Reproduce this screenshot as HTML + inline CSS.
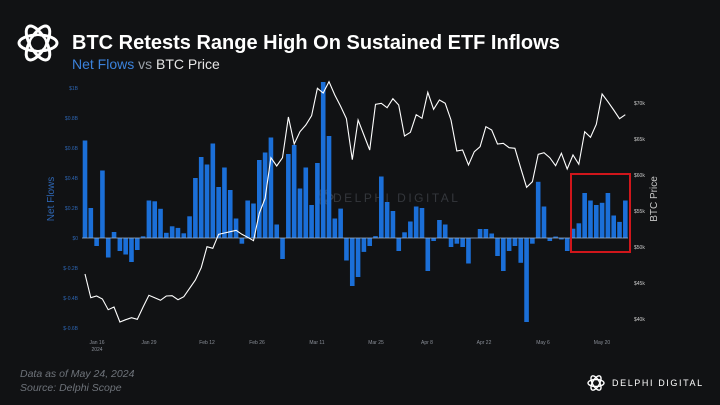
<!DOCTYPE html>
<html><head><meta charset="utf-8"><style>
html,body{margin:0;padding:0;background:#111214;width:720px;height:405px;overflow:hidden}
svg{display:block}
text{font-family:"Liberation Sans",sans-serif}
</style></head><body>
<svg id="s" width="720" height="405" viewBox="0 0 720 405" xmlns="http://www.w3.org/2000/svg">
<rect width="720" height="405" fill="#111214"/>
<g fill="none" stroke="#fff" stroke-width="3">
<ellipse cx="38" cy="43" rx="19" ry="8" transform="rotate(0 38 43)"/>
<ellipse cx="38" cy="43" rx="19" ry="8" transform="rotate(60 38 43)"/>
<ellipse cx="38" cy="43" rx="19" ry="8" transform="rotate(120 38 43)"/>
</g>
<circle cx="38" cy="43" r="7" fill="#111214"/>
<text x="72" y="49" font-size="20" font-weight="bold" fill="#fff">BTC Retests Range High On Sustained ETF Inflows</text>
<text x="72" y="69" font-size="14" fill="#3b82dc">Net Flows <tspan fill="#9aa0a8">vs</tspan> <tspan fill="#e6e6e6">BTC Price</tspan></text>
<text x="333" y="202" font-size="12" fill="#34373c" letter-spacing="2.5">DELPHI DIGITAL</text>
<g fill="none" stroke="#34373c" stroke-width="1.5">
<ellipse cx="325" cy="197" rx="8" ry="3.5"/>
<ellipse cx="325" cy="197" rx="8" ry="3.5" transform="rotate(60 325 197)"/>
<ellipse cx="325" cy="197" rx="8" ry="3.5" transform="rotate(120 325 197)"/>
</g>
<text transform="translate(54 199) rotate(-90)" font-size="10" fill="#2d64b0" text-anchor="middle">Net Flows</text>
<text transform="translate(657 199) rotate(-90)" font-size="10" fill="#c8c8c8" text-anchor="middle">BTC Price</text>
<g id="g"></g>
<rect x="571" y="174" width="59" height="78" fill="none" stroke="#d0161b" stroke-width="2"/>
<text x="20" y="377" font-size="10.5" font-style="italic" fill="#6e737a">Data as of May 24, 2024</text>
<text x="20" y="391" font-size="10.5" font-style="italic" fill="#6e737a">Source: Delphi Scope</text>
<g fill="none" stroke="#fff" stroke-width="1.4">
<ellipse cx="596" cy="383" rx="8" ry="3.5"/>
<ellipse cx="596" cy="383" rx="8" ry="3.5" transform="rotate(60 596 383)"/>
<ellipse cx="596" cy="383" rx="8" ry="3.5" transform="rotate(120 596 383)"/>
</g>
<text x="612" y="386" font-size="9" fill="#fff" letter-spacing="1.6">DELPHI DIGITAL</text>
</svg>
<script>
var b=[0.65,0.2,-0.053,0.45,-0.13,0.04,-0.087,-0.11,-0.16,-0.08,0.011,0.25,0.245,0.195,0.035,0.078,0.067,0.031,0.145,0.40,0.54,0.49,0.63,0.34,0.47,0.32,0.13,-0.038,0.25,0.23,0.52,0.57,0.67,0.09,-0.14,0.56,0.62,0.33,0.47,0.22,0.50,1.04,0.68,0.13,0.196,-0.15,-0.32,
-0.26,-0.093,-0.053,0.013,0.41,0.24,0.18,-0.087,0.038,0.11,0.21,0.2,-0.22,-0.02,0.12,0.09,-0.06,-0.038,-0.06,-0.17,0,0.06,0.06,0.03,-0.12,-0.22,-0.087,-0.053,-0.165,-0.56,-0.038,0.375,0.21,-0.02,0.01,-0.01,-0.087,0.062,0.098,0.30,0.25,0.22,0.235,0.30,0.15,0.107,0.25];
var p=[597,668,663,672,704,696,741,734,728,733,696,661,668,676,663,662,674,665,640,615,578,515,520,478,474,470,466,478,487,497,415,370,248,273,248,126,207,170,150,122,40,54,20,60,94,131,254,
135,180,225,88,85,98,71,90,183,172,119,130,52,103,75,85,135,228,225,270,230,215,155,165,207,205,218,220,280,337,320,238,233,248,272,235,282,240,268,170,187,148,57,80,105,131,119];
var h='',z=238;
var L=[["$1B",88],["$0.8B",118],["$0.6B",148],["$0.4B",178],["$0.2B",208],["$0",238],["$-0.2B",268],["$-0.4B",298],["$-0.6B",328]];
L.forEach(function(a){h+='<text x="78" y="'+(a[1]+2)+'" font-family="Liberation Serif" font-size="5" fill="#2d64b0" text-anchor="end">'+a[0]+'</text>';});
var R=[["$70k",103],["$65k",139],["$60k",175],["$55k",211],["$50k",247],["$45k",283],["$40k",319]];
R.forEach(function(a){h+='<text x="634" y="'+(a[1]+2)+'" font-family="Liberation Serif" font-size="5" fill="#ccc">'+a[0]+'</text>';});
var X=[["Jan 16",97],["Jan 29",149],["Feb 12",207],["Feb 26",257],["Mar 11",317],["Mar 25",376],["Apr 8",427],["Apr 22",484],["May 6",543],["May 20",602]];
X.forEach(function(a){h+='<text x="'+a[1]+'" y="344" font-family="Liberation Serif" font-size="5" fill="#8a8f98" text-anchor="middle">'+a[0]+'</text>';});
h+='<text x="97" y="351" font-family="Liberation Serif" font-size="5" fill="#8a8f98" text-anchor="middle">2024</text>';
var pts=[];
for(var i=0;i<b.length;i++){var x=85+i*5.81,v=b[i]*150;
 if(v>=0)h+='<rect x="'+(x-2.3).toFixed(2)+'" y="'+(z-v).toFixed(1)+'" width="4.6" height="'+v.toFixed(1)+'" fill="#1b6fd8"/>';
 else h+='<rect x="'+(x-2.3).toFixed(2)+'" y="'+z+'" width="4.6" height="'+(-v).toFixed(1)+'" fill="#1b6fd8"/>';
 pts.push(x.toFixed(1)+','+(75+p[i]/3).toFixed(1));}
h+='<line x1="82" y1="238" x2="628" y2="238" stroke="#9fb4cc" stroke-width="0.7"/>';
h+='<polyline points="'+pts.join(' ')+'" fill="none" stroke="#fff" stroke-width="1.1"/>';
document.getElementById('g').innerHTML=h;
</script>
</body></html>
